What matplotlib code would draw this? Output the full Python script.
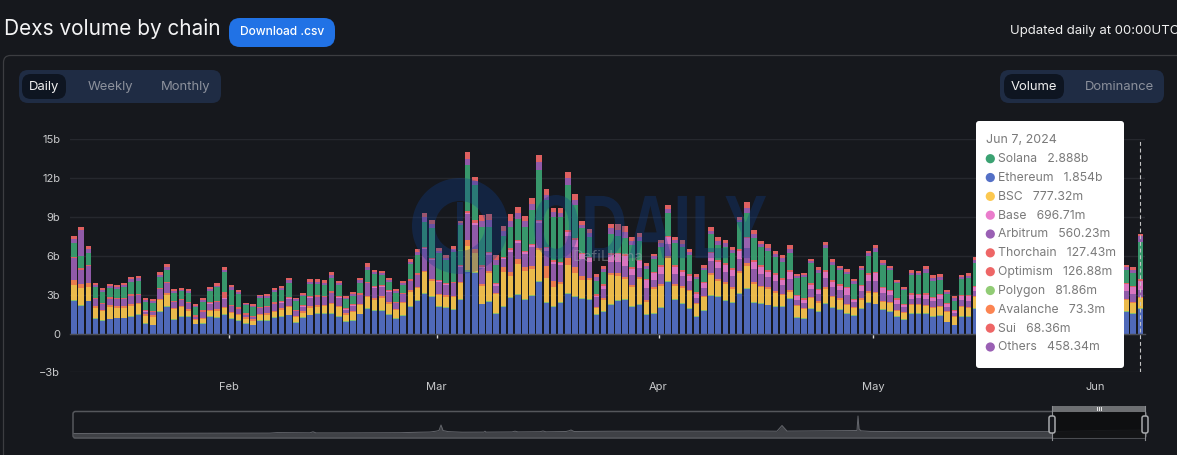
import matplotlib
matplotlib.use("Agg")
import matplotlib.pyplot as plt
import pandas as pd
from matplotlib.patches import Circle, FancyBboxPatch, PathPatch, Rectangle, Wedge
from matplotlib.textpath import TextPath
from matplotlib.transforms import Affine2D
from matplotlib.font_manager import FontProperties

plt.rcParams["font.family"] = ["Inter", "DejaVu Sans"]

W, H = 1177, 455
BG = "#16181d"

dates = pd.date_range("2024-01-10", "2024-06-07")

ethereum = [2.49, 2.13, 2.47, 1.13, 1.00, 1.08, 1.16, 1.16, 1.31, 1.44,
            .75, .64, 1.67, 2.06, 1.05, 1.26, 1.26, .72, .75, 1.26,
            1.21, 1.44, 1.11, 1.00, .77, .62, .95, 1.00, 1.21, 1.31,
            1.39, .82, 1.21, 1.39, 1.49, 1.52, 1.49, 1.31, .90, 1.00,
            1.47, 1.88, 1.72, 1.72, 1.41, 1.11, 1.34, 2.03, 2.49, 3.06,
            2.83, 2.03, 1.98, 1.80, 2.57, 4.78, 4.63, 2.24, 2.44, 1.54,
            2.06, 2.75, 2.96, 2.57, 2.90, 3.96, 2.39, 2.06, 2.36, 3.03,
            2.83, 2.65, 2.60, 1.41, 1.67, 2.18, 2.49, 2.57, 2.06, 2.21,
            1.46, 1.54, 2.00, 3.98, 2.62, 2.31, 1.88, 1.26, 1.77, 2.93,
            2.80, 2.52, 2.39, 3.08, 3.42, 2.39, 2.26, 2.16, 2.08, 2.08,
            2.65, 1.21, 1.13, 1.90, 1.67, 2.29, 1.95, 1.82, 1.49, 1.36,
            1.90, 2.39, 2.24, 1.80, 1.67, 1.29, 1.05, 1.52, 1.54, 1.54,
            1.29, 1.36, .85, .64, 1.31, 1.26, 1.88, 1.8, 1.9, 1.6,
            1.5, 1.7, 1.4, 1.3, 1.5, 1.6, 1.7, 1.9, 1.8, 1.5,
            1.4, 1.6, 1.8, 1.7, 1.6, 1.5, 1.7, 1.62, 1.5, 1.854]
polygon = [.07, .07, .06, .06, .06, .06, .06, .06, .06, .06,
           .05, .05, .06, .07, .06, .06, .06, .05, .05, .06,
           .06, .06, .06, .06, .05, .05, .06, .06, .06, .06,
           .06, .05, .06, .06, .06, .06, .06, .06, .05, .06,
           .06, .06, .06, .06, .06, .06, .06, .07, .07, .08,
           .07, .06, .06, .06, .07, .09, .09, .07, .07, .06,
           .07, .07, .08, .07, .07, .08, .07, .07, .07, .08,
           .07, .07, .07, .06, .06, .07, .07, .07, .07, .07,
           .06, .06, .07, .08, .07, .07, .06, .06, .06, .07,
           .07, .07, .07, .07, .08, .07, .07, .07, .07, .07,
           .07, .06, .06, .06, .06, .07, .06, .06, .06, .06,
           .06, .07, .07, .06, .06, .06, .05, .06, .06, .06,
           .06, .06, .05, .05, .06, .06, .07, .07, .07, .07,
           .07, .07, .07, .07, .07, .07, .07, .07, .07, .07,
           .07, .07, .07, .07, .07, .07, .07, .08, .08, .0819]
bsc = [1.17, 1.28, 1.07, .79, .66, .92, .76, .76, .76, .76,
       .56, .61, .84, .87, .76, .71, .45, .25, .30, .38,
       .48, .45, .40, .33, .30, .30, .38, .40, .38, .45,
       .58, .38, .33, .53, .53, .51, .71, .66, .51, .56,
       .66, .84, .84, .97, .84, .63, .92, 1.12, .92, 1.58,
       1.17, .87, .79, .92, 1.22, 1.84, 1.48, 1.38, 2.18, 1.43,
       2.59, 1.61, 2.33, 2.18, 2.02, 2.41, 1.84, 1.43, 1.35, 2.20,
       1.79, 1.40, 1.46, .51, .89, 2.25, 1.89, 1.56, 1.43, 1.92,
       .92, 1.84, 1.61, 1.79, 1.00, 1.15, 1.30, .92, 1.00, 1.53,
       1.20, 1.25, .97, 1.53, 1.74, 1.38, 1.22, 1.22, 1.00, .81,
       .51, .87, .69, .74, .66, 1.10, .81, .74, .66, .58,
       .66, .69, .79, .58, .63, .38, .48, .58, .58, .51,
       .63, .63, .76, .58, .69, .61, .84, .8, .9, .7,
       .8, .7, .6, .7, .8, .9, .7, .8, .7, .6,
       .7, .8, .9, .7, .8, .8, .7, .85, .8, .777]
avalanche = [.39, .33, .33, .12, .12, .12, .12, .12, .12, .12,
             .12, .12, .12, .12, .12, .12, .12, .12, .12, .12,
             .12, .12, .12, .12, .12, .12, .12, .12, .12, .12,
             .12, .12, .12, .12, .12, .12, .12, .12, .12, .12,
             .12, .12, .12, .12, .12, .12, .12, .12, .12, .12,
             .12, .12, .12, .12, .12, .50, .30, .15, .15, .12,
             .40, .35, .40, .30, .25, .15, .90, .50, .20, .50,
             .40, .35, .15, .10, .10, .20, .20, .15, .15, .13,
             .15, .12, .15, .12, .12, .12, .10, .10, .10, .12,
             .15, .12, .12, .14, .20, .15, .12, .10, .12, .10,
             .10, .08, .08, .10, .10, .10, .10, .10, .10, .08,
             .10, .12, .13, .10, .08, .08, .08, .08, .08, .08,
             .08, .08, .06, .05, .08, .08, .08, .08, .08, .08,
             .08, .08, .08, .08, .08, .08, .08, .08, .08, .08,
             .08, .08, .08, .08, .08, .08, .08, .08, .08, .0733]
arbitrum = [1.70, 1.10, 1.25, .53, .43, .48, .53, .53, .66, .58,
            .20, .20, .71, .74, .43, .40, .43, .14, .45, .48,
            .53, .61, .40, .38, .20, .17, .43, .45, .51, .45,
            .53, .33, .35, .66, .63, .58, .74, .61, .27, .40,
            .66, .97, .79, .74, .79, .40, .58, .71, .92, 1.69,
            1.48, .92, .79, .97, 1.17, 2.00, 1.90, 1.20, 1.20, .50,
            .60, 1.50, 1.20, 1.00, 1.40, 1.90, 1.20, 1.30, 1.30, 1.70,
            1.60, 1.30, 1.25, .70, .75, .85, .85, .85, .80, .75,
            .95, .55, .75, .90, .75, .75, .70, .40, .55, .95,
            .80, .80, .85, .90, 1.15, .95, .95, .80, .75, .70,
            .85, .40, .42, .60, .55, .75, .65, .60, .65, .33,
            .55, .75, .85, .55, .50, .50, .35, .45, .45, .48,
            .42, .50, .33, .24, .42, .50, .40, .55, .6, .5,
            .5, .6, .5, .45, .5, .55, .6, .65, .6, .5,
            .45, .5, .6, .55, .5, .5, .55, .65, .6, .56]
base = [.02, .02, .02, .02, .02, .02, .02, .02, .02, .02,
        .02, .02, .02, .02, .02, .02, .02, .02, .02, .02,
        .02, .02, .02, .02, .02, .02, .02, .02, .02, .02,
        .02, .02, .02, .02, .02, .02, .02, .02, .02, .02,
        .03, .03, .03, .03, .03, .03, .03, .03, .03, .04,
        .04, .04, .04, .04, .05, .08, .15, .12, .15, .15,
        .10, .15, .13, .15, .18, .14, .17, .18, .13, .35,
        .50, .33, .28, .15, .23, .50, .60, .80, .50, .50,
        .60, .52, .57, .55, .60, .37, .42, .33, .40, .58,
        .52, .53, .50, .64, .77, .60, .53, .42, .50, .37,
        .60, .24, .22, .36, .33, .47, .42, .38, .52, .20,
        .36, .50, .57, .41, .30, .30, .21, .30, .27, .32,
        .25, .35, .22, .16, .30, .35, .32, .4, .45, .4,
        .35, .45, .4, .3, .35, .4, .45, .5, .45, .4,
        .35, .4, .45, .4, .4, .35, .4, .5, .5, .697]
optimism = [.08, .10, .08, .10, .10, .10, .10, .10, .10, .10,
            .10, .10, .10, .10, .10, .10, .10, .10, .10, .10,
            .10, .50, .10, .10, .10, .10, .10, .10, .10, .10,
            .10, .10, .10, .10, .10, .10, .10, .10, .10, .10,
            .10, .10, .10, .10, .10, .10, .10, .10, .10, .10,
            .10, .10, .10, .10, .10, .12, .20, .12, .12, .10,
            .10, .13, .12, .12, .12, .12, .12, .13, .12, .12,
            .15, .13, .12, .10, .10, .12, .12, .13, .14, .08,
            .10, .12, .12, .10, .12, .12, .12, .10, .11, .12,
            .12, .12, .12, .12, .12, .12, .12, .12, .12, .12,
            .12, .10, .10, .10, .10, .12, .12, .10, .12, .08,
            .10, .12, .12, .10, .10, .10, .08, .10, .10, .10,
            .10, .10, .08, .06, .10, .10, .10, .10, .10, .10,
            .10, .10, .10, .10, .10, .10, .10, .10, .10, .10,
            .10, .10, .10, .10, .10, .10, .10, .11, .11, .127]
solana = [1.03, .98, .95, .85, .82, .75, .69, .85, .95, .98,
          .64, .62, .82, .90, .62, .59, .69, .62, .67, .85,
          1.03, 1.54, 1.18, 1.03, .64, .67, .67, .62, .77, .85,
          1.08, .69, .67, .90, .87, .85, 1.03, .85, .67, .64,
          .82, .90, .93, .77, .64, .64, .57, 1.16, 1.41, 1.93,
          2.31, 2.06, 1.80, 2.31, 3.08, 3.57, 2.70, 2.96, 1.93, 1.36,
          1.59, 1.62, 1.59, 1.85, 2.62, 3.86, 3.60, 3.34, 3.42, 3.47,
          2.57, 1.88, 1.49, 1.03, .95, 1.54, 1.29, 1.21, 1.67, 1.46,
          .77, 1.03, 1.41, 1.75, 1.67, 1.80, 1.46, 1.00, .90, 1.41,
          1.16, 1.29, 1.21, 2.13, 1.80, 1.67, 1.41, 1.49, 1.29, 1.29,
          1.29, 1.29, 1.67, 1.54, 1.21, 1.67, 1.16, 1.13, .98, 1.16,
          1.16, 1.34, 1.54, 1.67, 1.54, 1.16, 1.03, 1.41, 1.41, 1.59,
          1.23, 1.08, .72, .72, 1.23, 1.34, 1.72, 1.4, 1.5, 1.3,
          1.2, 1.6, 1.3, 1.1, 1.2, 1.4, 1.5, 1.7, 1.6, 1.2,
          1.1, 1.3, 1.5, 1.4, 1.3, 1.2, 1.4, .98, 1.0, 2.888]
others = [.30, 2.00, .26, .17, .15, .15, .14, .17, .21, .21,
          .14, .14, .21, .23, .13, .13, .15, .13, .15, .15,
          .15, .19, .17, .14, .09, .10, .13, .13, .15, .15,
          .21, .12, .12, .19, .18, .17, .22, .17, .13, .14,
          .17, .26, .17, .14, .13, .15, .15, .21, .22, .36,
          .31, .19, .18, .21, .15, .50, .32, .46, .49, .39,
          .40, .50, .45, .43, .46, .57, .41, .35, .36, .52,
          .41, .28, .32, .26, .25, .39, .45, .46, .32, .30,
          .19, .17, .28, .31, .27, .25, .25, .19, .19, .23,
          .31, .26, .23, .18, .41, .32, .25, .25, .23, .25,
          .32, .17, .14, .17, .23, .26, .23, .13, .18, .17,
          .15, .21, .27, .18, .17, .14, .14, .18, .15, .26,
          .25, .21, .15, .21, .18, .17, .26, .2, .2, .2,
          .2, .2, .2, .2, .2, .2, .2, .2, .2, .2,
          .2, .2, .2, .2, .2, .2, .2, .22, .22, .458]
thorchain = [.15, .10, .13, .08, .08, .08, .07, .08, .10, .10,
             .07, .07, .10, .12, .07, .07, .08, .07, .08, .08,
             .08, .10, .08, .07, .05, .05, .07, .07, .08, .08,
             .10, .06, .06, .10, .09, .08, .11, .08, .07, .07,
             .08, .13, .08, .07, .07, .08, .08, .10, .11, .18,
             .15, .10, .09, .10, .08, .25, .16, .23, .25, .19,
             .20, .25, .23, .21, .23, .28, .21, .17, .18, .26,
             .21, .14, .16, .13, .12, .19, .23, .23, .16, .15,
             .10, .08, .14, .15, .13, .12, .12, .10, .10, .12,
             .15, .13, .12, .09, .21, .16, .12, .12, .12, .12,
             .16, .08, .07, .08, .12, .13, .12, .07, .09, .08,
             .08, .10, .13, .09, .08, .07, .07, .09, .08, .13,
             .12, .10, .08, .10, .09, .08, .13, .1, .1, .1,
             .1, .1, .1, .1, .1, .1, .1, .1, .1, .1,
             .1, .1, .1, .1, .1, .1, .1, .11, .11, .127]
sui = [.15, .10, .13, .08, .08, .08, .07, .08, .10, .10,
       .07, .07, .10, .12, .07, .07, .08, .07, .08, .08,
       .08, .10, .08, .07, .05, .05, .07, .07, .08, .08,
       .10, .06, .06, .10, .09, .08, .11, .08, .07, .07,
       .08, .13, .08, .07, .07, .08, .08, .10, .11, .18,
       .15, .10, .09, .10, .08, .25, .16, .23, .25, .19,
       .20, .25, .23, .21, .23, .28, .21, .17, .18, .26,
       .21, .14, .16, .13, .12, .19, .23, .23, .16, .15,
       .10, .08, .14, .15, .13, .12, .12, .10, .10, .12,
       .15, .13, .12, .09, .21, .16, .12, .12, .12, .12,
       .16, .08, .07, .08, .12, .13, .12, .07, .09, .08,
       .08, .10, .13, .09, .08, .07, .07, .09, .08, .13,
       .12, .10, .08, .10, .09, .08, .13, .1, .1, .1,
       .1, .1, .1, .1, .1, .1, .1, .1, .1, .1,
       .1, .1, .1, .1, .1, .1, .1, .11, .11, .068]

# bottom to top
stack_order = [(ethereum, "#5470c6"), (polygon, "#91cc75"), (bsc, "#fcc84f"), (avalanche, "#fc8452"),
               (arbitrum, "#9a60b4"), (base, "#ea7ccc"), (optimism, "#ee6666"), (solana, "#3ba272"),
               (others, "#9a60b4"), (thorchain, "#ee6666"), (sui, "#ee6666")]

y_ticks = [-3, 0, 3, 6, 9, 12, 15]
y_tick_labels = ["\u22123b", "0", "3b", "6b", "9b", "12b", "15b"]
month_starts = ["2024-02-01", "2024-03-01", "2024-04-01", "2024-05-01", "2024-06-01"]
month_labels = ["Feb", "Mar", "Apr", "May", "Jun"]

tooltip_date = "Jun 7, 2024"
tooltip_names = ["Solana", "Ethereum", "BSC", "Base", "Arbitrum", "Thorchain", "Optimism", "Polygon", "Avalanche",
                 "Sui", "Others"]
tooltip_values = ["2.888b", "1.854b", "777.32m", "696.71m", "560.23m", "127.43m", "126.88m", "81.86m", "73.3m",
                  "68.36m", "458.34m"]
tooltip_colors = ["#3ba272", "#5470c6", "#fcc84f", "#ea7ccc", "#9a60b4", "#ee6666", "#ee6666", "#91cc75", "#fc8452",
                  "#ee6666", "#9a60b4"]

# overview strip under the chart, whole history
mini_t = [0, 127, 197, 204, 237, 240, 243, 267, 327, 347, 357, 363, 366, 368, 370, 375, 389, 411, 412, 413, 439, 442,
          445, 467, 470, 473, 493, 496, 498, 501, 540, 640, 677, 704, 709, 714, 784, 785, 786, 788, 797, 827, 927,
          979, 1027, 1072]
mini_v = [4.5, 4.8, 4.9, 5.4, 5.2, 6.2, 5.1, 5.1, 5.3, 5.8, 6, 6.8, 7.5, 13, 7.5, 6.4, 5.8, 5.9, 6.8, 5.9, 6.1, 6.8,
          6.1, 6.3, 7, 6.2, 6.5, 7.2, 8, 6.5, 6.8, 6.8, 7, 6.8, 12.5, 6.9, 7.5, 22, 9, 7.2, 6.6, 6.4, 6.4,
          6.4, 7.5, 8]


def px_axes(zorder):
    a = fig.add_axes([0, 0, 1, 1], zorder=zorder)
    a.set_xlim(0, W)
    a.set_ylim(H, 0)
    a.axis("off")
    a.patch.set_alpha(0)
    return a


def pill(a, x0, y0, x1, y1, r, **kw):
    a.add_patch(FancyBboxPatch((x0, y0), x1 - x0, y1 - y0, boxstyle=f"round,pad=0,rounding_size={r}", **kw))


def px_text(a, x, y, s, size_px, color, ha="center", **kw):
    return a.text(x, y, s, fontsize=size_px * 0.72, color=color, ha=ha, va="center", **kw)


fig = plt.figure(figsize=(W / 100, H / 100), dpi=100, facecolor=BG)

# page furniture
bg = px_axes(0)
px_text(bg, 4, 29, "Dexs volume by chain", 20.8, "#f4f4f5", ha="left")
pill(bg, 229, 18, 335, 47, 11, fc="#2172e5", ec="none")
px_text(bg, 282, 32, "Download .csv", 12, "#ffffff", fontweight="medium")
px_text(bg, 1010, 31, "Updated daily at 00:00UTC", 13.1, "#f0f0f0", ha="left")
pill(bg, 3.5, 55.5, 1190, 480, 7, fc="none", ec="#3c3d41", lw=0.9)

pill(bg, 19, 70, 221, 103, 9, fc="#1f2c44", ec="none")
pill(bg, 22, 74, 66, 99, 9, fc="#0e1521", ec="none")
px_text(bg, 44, 87, "Daily", 13, "#f0f0f0")
px_text(bg, 110, 87, "Weekly", 13, "#8c919c")
px_text(bg, 186, 87, "Monthly", 13, "#8c919c")

pill(bg, 1000, 70, 1164, 103, 9, fc="#1f2c44", ec="none")
pill(bg, 1004, 74, 1064, 99, 9, fc="#0e1521", ec="none")
px_text(bg, 1034, 87, "Volume", 13, "#f0f0f0")
px_text(bg, 1119, 87, "Dominance", 13, "#8c919c")

# main stacked bars
ax_l, ax_r, ax_t, ax_b = 70, 1144.5, 139, 372.4
ax = fig.add_axes([ax_l / W, 1 - ax_b / H, (ax_r - ax_l) / W, (ax_b - ax_t) / H], zorder=1)
ax.patch.set_alpha(0)
bottom = [0.0] * len(dates)
for values, color in stack_order:
    ax.bar(dates, values, width=0.78, bottom=bottom, color=color, alpha=0.93, linewidth=0, zorder=3)
    bottom = [b + v for b, v in zip(bottom, values)]

ax.set_xlim(dates[0] - pd.Timedelta(hours=13.4), dates[-1] + pd.Timedelta(hours=13.6))
ax.set_ylim(-3, 15)
ax.set_yticks(y_ticks)
ax.set_yticklabels(y_tick_labels)
# labels sit about 8h left of the bars, the site's time zone
ax.set_xticks([pd.Timestamp(d) - pd.Timedelta(hours=8) for d in month_starts])
ax.set_xticklabels(month_labels)
ax.grid(axis="y", color="#26282e", linewidth=1, zorder=0)
for name in ["top", "left", "right"]:
    ax.spines[name].set_visible(False)
ax.spines["bottom"].set_position(("data", 0))
ax.spines["bottom"].set_color("#4a4d55")
ax.spines["bottom"].set_linewidth(1)
ax.spines["bottom"].set_zorder(4)
ax.tick_params(axis="y", length=0, pad=7, labelsize=8, labelcolor="#c9cacc")
ax.tick_params(axis="x", length=3, width=1, color="#d8d8d8", pad=32, labelsize=8, labelcolor="#c9cacc")
ax.axvline(dates[-1], color="#c4c4c4", linewidth=0.8, linestyle=(0, (3.5, 2.5)), zorder=5)

# overview strip
mini_l, mini_r, mini_t_px, mini_b_px = 73, 1146, 411.5, 438
mini = fig.add_axes([mini_l / W, 1 - mini_b_px / H, (mini_r - mini_l) / W, (mini_b_px - mini_t_px) / H], zorder=1)
mini.patch.set_alpha(0)
mini.fill_between(mini_t, mini_v, 0, color="#3f4146", linewidth=0)
mini.plot(mini_t, mini_v, color="#63656b", linewidth=0.7)
mini.set_xlim(0, mini_r - mini_l)
mini.set_ylim(0, mini_b_px - mini_t_px)
mini.axis("off")

over = px_axes(3)
pill(over, mini_l, mini_t_px, mini_r, mini_b_px, 2.5, fc="none", ec="#55575c", lw=1.1, zorder=2)
over.add_patch(Rectangle((1052, mini_t_px), 93, mini_b_px - mini_t_px, fc="#0d0e10", ec="none", alpha=0.88, zorder=3))
over.add_patch(Rectangle((1052, 405.5), 93, 6, fc="#6d6f72", ec="none", zorder=4))
for hx in [1096.5, 1098.5, 1100.5]:
    over.plot([hx, hx], [407, 410], color="#e8e8e8", linewidth=0.7, zorder=5)
for hx in [1052, 1145]:
    over.plot([hx, hx], [405.5, 440], color="#8a8c90", linewidth=0.8, zorder=4)
    pill(over, hx - 3, 416, hx + 3, 433, 2, fc=BG, ec="#a8aaad", lw=1.1, zorder=5)

# ODAILY watermark goes over the bars
mark_color = "#0f3f90"
mark_alpha = 0.32
over.add_patch(Wedge((460, 226), 48, 0, 360, width=23, fc=mark_color, ec="none", alpha=mark_alpha, zorder=6))
over.add_patch(Rectangle((457, 202), 6, 48, fc=mark_color, ec="none", alpha=mark_alpha, zorder=6))
word = TextPath((0, 0), "ODAILY", size=100, prop=FontProperties(family="Liberation Sans", weight="bold"))
box = word.get_extents()
fit = Affine2D().translate(-box.x0, -box.y0).scale(232 / box.width, -64 / box.height).translate(534, 259)
over.add_patch(PathPatch(word, transform=fit + over.transData, fc=mark_color, ec="none", alpha=mark_alpha, zorder=6))
px_text(over, 608, 257, "DefiLlama", 15, "#9ea3ab", alpha=0.5, zorder=6)

# tooltip
pill(over, 976, 121, 1124, 368, 3, fc="#ffffff", ec="none", zorder=10)
px_text(over, 986, 140, tooltip_date, 12.4, "#7a7a7a", ha="left", zorder=11)
row_y = 158.7
for name, value, color in zip(tooltip_names, tooltip_values, tooltip_colors):
    over.add_patch(Circle((990.3, row_y), 4.6, fc=color, ec="none", zorder=11))
    px_text(over, 998.5, row_y + 0.4, f"{name}   {value}", 12.2, "#7a7a7a", ha="left", zorder=11)
    row_y += 18.83

fig.savefig("out.png", dpi=100, facecolor=BG)
